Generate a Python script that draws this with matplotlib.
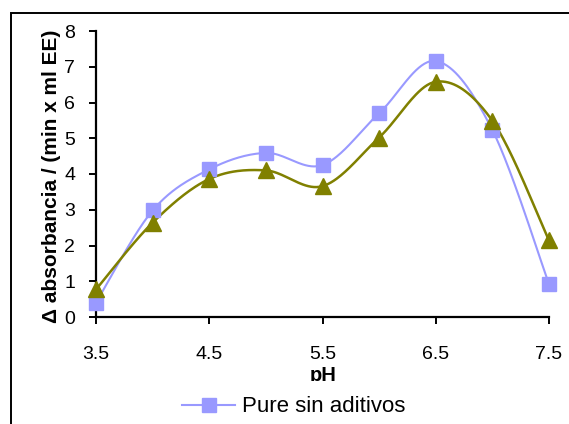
import numpy as np
import matplotlib
matplotlib.use("Agg")
import matplotlib.pyplot as plt
from matplotlib.patches import Rectangle
from matplotlib.lines import Line2D

plt.rcParams['font.family'] = ['Liberation Sans', 'DejaVu Sans']

ph = [3.5, 4.0, 4.5, 5.0, 5.5, 6.0, 6.5, 7.0, 7.5]
pure = [0.40, 2.98, 4.13, 4.59, 4.25, 5.70, 7.16, 5.23, 0.92]
second = [0.77, 2.64, 3.86, 4.10, 3.66, 5.02, 6.58, 5.49, 2.14]
series_labels = ["Pure sin aditivos", ""]
x_ticks = [3.5, 4.5, 5.5, 6.5, 7.5]
y_ticks = list(range(0, 9))

W, H = 569, 424


def smooth(x, y, n=40):
    """Catmull-Rom spline through the points (smoothed line)."""
    x = np.asarray(x, float)
    y = np.asarray(y, float)
    px = np.concatenate([[x[0]], x, [x[-1]]])
    py = np.concatenate([[y[0]], y, [y[-1]]])
    xs, ys = [], []
    for i in range(1, len(px) - 2):
        t = np.linspace(0, 1, n, endpoint=False)
        p0x, p1x, p2x, p3x = px[i - 1:i + 3]
        p0y, p1y, p2y, p3y = py[i - 1:i + 3]
        # Bezier control points
        c1x = p1x + (p2x - p0x) / 6
        c1y = p1y + (p2y - p0y) / 6
        c2x = p2x - (p3x - p1x) / 6
        c2y = p2y - (p3y - p1y) / 6
        b = [(1 - t) ** 3, 3 * (1 - t) ** 2 * t, 3 * (1 - t) * t ** 2, t ** 3]
        xs.append(b[0] * p1x + b[1] * c1x + b[2] * c2x + b[3] * p2x)
        ys.append(b[0] * p1y + b[1] * c1y + b[2] * c2y + b[3] * p2y)
    xs.append([x[-1]])
    ys.append([y[-1]])
    return np.concatenate(xs), np.concatenate(ys)


fig = plt.figure(figsize=(W / 100, H / 100), dpi=100)
ax = fig.add_axes([96 / W, (H - 317) / H, (549 - 96) / W, (317 - 31) / H])

lav = "#9999FF"
olive = "#808000"

sx, sy = smooth(ph, pure)
ax.plot(sx, sy, color=lav, lw=1.5, zorder=2)
ax.plot(ph, pure, ls="none", marker="s", ms=10, color=lav, zorder=4, clip_on=False)

tx, ty = smooth(ph, second)
ax.plot(tx, ty, color=olive, lw=1.8, zorder=3)
ax.plot(ph, second, ls="none", marker="^", ms=11, color=olive, zorder=5, clip_on=False)

ax.set_xlim(3.5, 7.5)
ax.set_ylim(0, 8)
ax.set_xticks(x_ticks)
ax.set_xticklabels([str(v) for v in x_ticks])
ax.set_yticks(y_ticks)
ax.tick_params(axis="both", direction="out", length=5, width=1.4, labelsize=14)
ax.tick_params(axis="x", pad=16)
ax.tick_params(axis="y", pad=10)
for s in ("top", "right"):
    ax.spines[s].set_visible(False)
for s in ("left", "bottom"):
    ax.spines[s].set_linewidth(1.6)

ax.set_ylabel("Δ absorbancia / (min x ml EE)", fontsize=15, fontweight="bold")
ax.yaxis.set_label_coords(-(96 - 61) / (549 - 96), (317 - 176) / (317 - 31))

# outer frame of the chart area
fig.patches.append(Rectangle((11 / W, -0.1), 1.2, (H - 13) / H + 0.1,
                             transform=fig.transFigure, fill=False,
                             ec="black", lw=1.4, zorder=1))

fig.text(323 / W, 1 - 381 / H, "pH", ha="center", va="baseline",
         fontsize=14.5, fontweight="bold", zorder=3)
# legend area hides the lower part of the axis title
fig.patches.append(Rectangle((13 / W, 0), 1, (H - 381) / H,
                             transform=fig.transFigure, fc="white", ec="none",
                             zorder=4))

handle = Line2D([], [], color=lav, lw=1.5, marker="s", ms=10)
leg = fig.legend([handle], [series_labels[0]], loc="center left",
                 bbox_to_anchor=(182 / W, 1 - 407 / H), frameon=False,
                 fontsize=16, handlelength=2.4, handletextpad=0.3,
                 borderpad=0, borderaxespad=0)
leg.set_zorder(5)

fig.savefig("out.png", dpi=100)
